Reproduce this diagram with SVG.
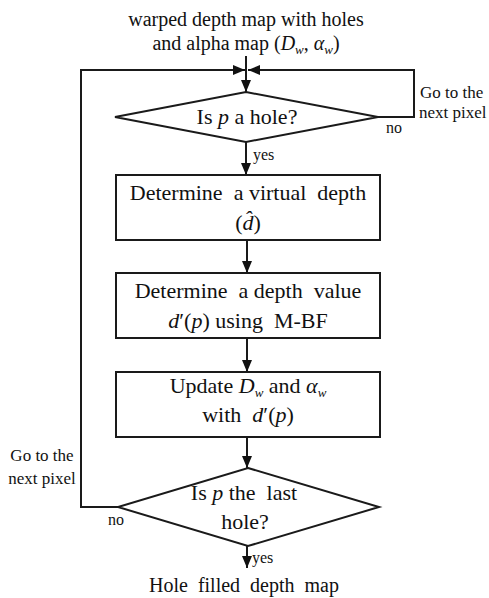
<svg xmlns="http://www.w3.org/2000/svg" width="489" height="598" viewBox="0 0 489 598">
<style>
text{font-family:"Liberation Serif","Times New Roman",serif;fill:#111;white-space:pre}
.t20{font-size:20px}
.t22{font-size:22px}
.lbl{font-size:17px}
.sm{font-size:16px}
.i{font-style:italic}
.sub{font-size:13px;font-style:italic}
.mid{text-anchor:middle}
.shape{fill:#fff;stroke:#1a1a1a;stroke-width:2}
.line{fill:none;stroke:#1a1a1a;stroke-width:2}
</style>
<defs>
<marker id="arrow" viewBox="0 0 12 10" refX="12" refY="5" markerWidth="12" markerHeight="10" markerUnits="userSpaceOnUse" orient="auto">
<path d="M0,0 L12,5 L0,10 z" fill="#111"/>
</marker>
</defs>
<rect width="489" height="598" fill="#fff"/>

<!-- input caption -->
<g id="input">
<text class="t20 mid" x="246" y="26">warped depth map with holes</text>
<text class="t20 mid" x="246" y="50">and alpha map (<tspan class="i">D</tspan><tspan class="sub" dy="4">w</tspan><tspan dy="-4">, </tspan><tspan class="i">α</tspan><tspan class="sub" dy="4">w</tspan><tspan dy="-4">)</tspan></text>
</g>

<!-- connectors -->
<g id="connectors">
<line class="line" x1="246" y1="56" x2="246" y2="92" marker-end="url(#arrow)"/>
<polyline class="line" points="118,507 81,507 81,70 245,70" marker-end="url(#arrow)"/>
<polyline class="line" points="378,117 414,117 414,70 248,70" marker-end="url(#arrow)"/>
<line class="line" x1="246" y1="142" x2="246" y2="175" marker-end="url(#arrow)"/>
<line class="line" x1="247" y1="240" x2="247" y2="273" marker-end="url(#arrow)"/>
<line class="line" x1="247" y1="338" x2="247" y2="372" marker-end="url(#arrow)"/>
<line class="line" x1="247" y1="437" x2="247" y2="468" marker-end="url(#arrow)"/>
<line class="line" x1="247" y1="546" x2="247" y2="568" marker-end="url(#arrow)"/>
<text class="sm" x="253" y="160">yes</text>
<text class="sm" x="386" y="133">no</text>
<text class="lbl" x="420" y="98">Go to the</text>
<text class="lbl" x="419" y="118">next pixel</text>
<text class="sm" x="108" y="525">no</text>
<text class="lbl mid" x="42" y="461">Go to the</text>
<text class="lbl mid" x="42" y="484">next pixel</text>
<text class="sm" x="252" y="563">yes</text>
</g>

<!-- decision: hole test -->
<g id="is-hole">
<polygon class="shape" points="246,92 378,117 246,142 115,117"/>
<text class="t22 mid" x="247" y="124">Is <tspan class="i">p</tspan> a hole?</text>
</g>

<!-- step: virtual depth -->
<g id="virtual-depth">
<rect class="shape" x="116" y="175" width="264" height="65"/>
<text class="t22 mid" x="248" y="200">Determine  a virtual  depth</text>
<text class="t22 mid" x="248" y="230">(<tspan class="i">d̂</tspan>)</text>
</g>

<!-- step: depth value -->
<g id="depth-value">
<rect class="shape" x="116" y="273" width="264" height="65"/>
<text class="t22 mid" x="248" y="298">Determine  a depth  value</text>
<text class="t22 mid" x="248" y="328"><tspan class="i">d</tspan>′(<tspan class="i">p</tspan>) using  M-BF</text>
</g>

<!-- step: update maps -->
<g id="update">
<rect class="shape" x="116" y="372" width="264" height="65"/>
<text class="t22 mid" x="248" y="393">Update <tspan class="i">D</tspan><tspan class="sub" dy="4">w</tspan><tspan dy="-4"> and </tspan><tspan class="i">α</tspan><tspan class="sub" dy="4">w</tspan></text>
<text class="t22 mid" x="248" y="422">with  <tspan class="i">d</tspan>′(<tspan class="i">p</tspan>)</text>
</g>

<!-- decision: last hole -->
<g id="is-last">
<polygon class="shape" points="248,468 379,507 248,546 118,507"/>
<text class="t22 mid" x="244" y="500">Is <tspan class="i">p</tspan> the  last</text>
<text class="t22 mid" x="245" y="529">hole?</text>
</g>

<!-- output caption -->
<g id="output">
<text class="t20 mid" x="244" y="592">Hole  filled  depth  map</text>
</g>
</svg>
